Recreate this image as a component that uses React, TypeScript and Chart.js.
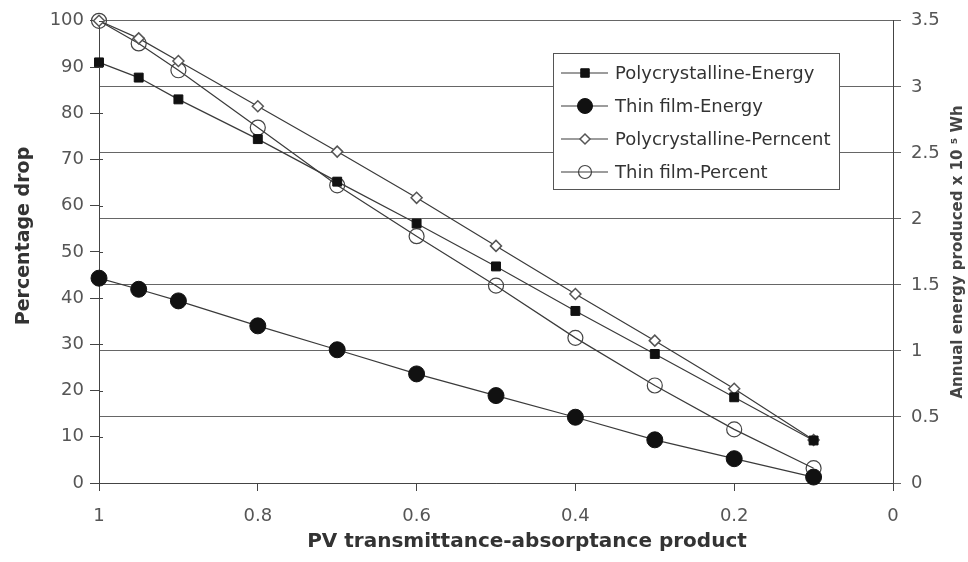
import React, { useEffect, useRef } from 'react';
import { Chart, registerables } from 'chart.js';
import { drawPoint } from 'chart.js/helpers';

Chart.register(...registerables);

// ---- data ----
const xValues = [1, 0.95, 0.9, 0.8, 0.7, 0.6, 0.5, 0.4, 0.3, 0.2, 0.1];
// right axis (Annual energy produced x 10^5 Wh)
const polyEnergy = [3.185, 3.07, 2.905, 2.604, 2.282, 1.965, 1.64, 1.303, 0.977, 0.649, 0.322];
const thinEnergy = [1.551, 1.467, 1.379, 1.19, 1.009, 0.826, 0.662, 0.498, 0.327, 0.184, 0.045];
// left axis (Percentage drop)
const polyPercent = [100, 96.2, 91.3, 81.5, 71.7, 61.7, 51.3, 40.9, 30.8, 20.4, 9.3];
const thinPercent = [100, 95.1, 89.3, 76.9, 64.4, 53.4, 42.7, 31.4, 21.1, 11.6, 3.2];

const seriesLabels = [
  'Polycrystalline-Energy',
  'Thin film-Energy',
  'Polycrystalline-Perncent',
  'Thin film-Percent',
];
const xTitle = 'PV transmittance-absorptance product';
const leftTitle = 'Percentage drop';
const rightTitle = 'Annual energy produced x 10 \u2075 Wh';

const leftMin = 0;
const leftMax = 100;
const leftStep = 10;
const rightMin = 0;
const rightMax = 3.5;
const rightStep = 0.5;
const xMin = 0;
const xMax = 1;
const xStep = 0.2;

const FONT = "'DejaVu Sans', 'Liberation Sans', Arial, sans-serif";
const LINE = '#3a3a3a';

const titlesPlugin = {
  id: 'customTitles',
  afterDraw(chart: any) {
    const ctx = chart.ctx;
    const area = chart.chartArea;
    ctx.save();
    // small inward tick marks on the left axis
    const yScale = chart.scales.y;
    ctx.strokeStyle = '#444';
    ctx.lineWidth = 1;
    yScale.ticks.forEach((t: any) => {
      const py = Math.round(yScale.getPixelForValue(t.value)) + 0.5;
      ctx.beginPath();
      ctx.moveTo(area.left, py);
      ctx.lineTo(area.left + 4, py);
      ctx.stroke();
    });
    ctx.fillStyle = '#333';
    // x title
    ctx.font = `bold 20px ${FONT}`;
    ctx.textAlign = 'center';
    ctx.textBaseline = 'alphabetic';
    ctx.fillText(xTitle, 527, 547);
    // left title
    ctx.save();
    ctx.translate(29, 236);
    ctx.rotate(-Math.PI / 2);
    ctx.font = `bold 19px ${FONT}`;
    ctx.textAlign = 'center';
    ctx.textBaseline = 'alphabetic';
    ctx.fillText(leftTitle, 0, 0);
    ctx.restore();
    // right title
    ctx.save();
    ctx.translate(962, (area.top + area.bottom) / 2);
    ctx.rotate(-Math.PI / 2);
    ctx.font = `bold 15px ${FONT}`;
    ctx.fillStyle = '#444';
    ctx.textAlign = 'center';
    ctx.textBaseline = 'alphabetic';
    ctx.fillText(rightTitle, 0, 0);
    ctx.restore();
    ctx.restore();
  },
};

const legendPlugin = {
  id: 'boxLegend',
  afterDraw(chart: any) {
    const ctx = chart.ctx;
    const left = 553;
    const top = 53;
    const width = 286;
    const height = 136;
    const rows = [73, 106, 139, 172];
    ctx.save();
    ctx.fillStyle = '#fff';
    ctx.fillRect(left, top, width, height);
    ctx.strokeStyle = '#555';
    ctx.lineWidth = 1;
    ctx.strokeRect(left + 0.5, top + 0.5, width, height);
    ctx.font = `18px ${FONT}`;
    ctx.textBaseline = 'middle';
    ctx.textAlign = 'left';
    chart.data.datasets.forEach((ds: any, i: number) => {
      const y = rows[i];
      ctx.strokeStyle = LINE;
      ctx.lineWidth = 1.2;
      ctx.beginPath();
      ctx.moveTo(561, y);
      ctx.lineTo(608, y);
      ctx.stroke();
      ctx.fillStyle = ds.pointBackgroundColor;
      ctx.strokeStyle = ds.pointBorderColor;
      ctx.lineWidth = ds.pointBorderWidth;
      drawPoint(ctx, {
        pointStyle: ds.pointStyle,
        rotation: 0,
        radius: ds.legendRadius,
        borderWidth: ds.pointBorderWidth,
      } as any, 585, y);
      ctx.fillStyle = '#333';
      ctx.fillText(ds.label, 615, y + 1);
    });
    ctx.restore();
  },
};

export default function App() {
  const ref = useRef<HTMLCanvasElement>(null);

  useEffect(() => {
    const mk = (arr: number[]) => xValues.map((x, i) => ({ x, y: arr[i] }));
    const chart = new Chart(ref.current as HTMLCanvasElement, {
      type: 'line',
      data: {
        datasets: [
          {
            label: seriesLabels[0],
            data: mk(polyEnergy),
            yAxisID: 'yR',
            borderColor: LINE,
            borderWidth: 1.2,
            pointStyle: 'rect',
            pointRadius: 6.3,
            pointBackgroundColor: '#111',
            pointBorderColor: '#111',
            pointBorderWidth: 1,
            legendRadius: 6,
            clip: false,
          } as any,
          {
            label: seriesLabels[1],
            data: mk(thinEnergy),
            yAxisID: 'yR',
            borderColor: LINE,
            borderWidth: 1.2,
            pointStyle: 'circle',
            pointRadius: 8,
            pointBackgroundColor: '#111',
            pointBorderColor: '#111',
            pointBorderWidth: 1,
            legendRadius: 7.5,
            clip: false,
          } as any,
          {
            label: seriesLabels[2],
            data: mk(polyPercent),
            yAxisID: 'y',
            borderColor: LINE,
            borderWidth: 1.2,
            pointStyle: 'rectRot',
            pointRadius: 5.5,
            pointBackgroundColor: '#fff',
            pointBorderColor: '#555',
            pointBorderWidth: 1.5,
            legendRadius: 5,
            clip: false,
          } as any,
          {
            label: seriesLabels[3],
            data: mk(thinPercent),
            yAxisID: 'y',
            borderColor: LINE,
            borderWidth: 1.2,
            pointStyle: 'circle',
            pointRadius: 7.5,
            pointBackgroundColor: 'rgba(255,255,255,0)',
            pointBorderColor: '#444',
            pointBorderWidth: 1.2,
            legendRadius: 6.5,
            clip: false,
          } as any,
        ],
      },
      options: {
        responsive: false,
        animation: false,
        events: [],
        layout: { padding: { top: 19, left: 0, right: 0, bottom: 0 } },
        plugins: {
          legend: { display: false },
          tooltip: { enabled: false },
          title: { display: false },
        },
        scales: {
          x: {
            type: 'linear',
            reverse: true,
            min: xMin,
            max: xMax,
            ticks: {
              stepSize: xStep,
              color: '#555',
              font: { family: FONT, size: 18 },
              padding: 15,
              maxRotation: 0,
              callback: (v: any) => String(Math.round(Number(v) * 10) / 10),
            },
            grid: { drawOnChartArea: false, color: '#444', tickLength: 8 },
            border: { color: '#444', width: 1 },
            afterFit: (s: any) => {
              s.height = 79;
            },
          },
          y: {
            position: 'left',
            min: leftMin,
            max: leftMax,
            ticks: {
              stepSize: leftStep,
              color: '#555',
              font: { family: FONT, size: 18 },
              padding: 6,
            },
            grid: { drawOnChartArea: false, color: '#444', tickLength: 9 },
            border: { color: '#444', width: 1 },
            afterFit: (s: any) => {
              s.width = 99;
            },
          },
          yR: {
            position: 'right',
            min: rightMin,
            max: rightMax,
            ticks: {
              stepSize: rightStep,
              color: '#555',
              font: { family: FONT, size: 18 },
              padding: 10,
              callback: (v: any) => String(Math.round(Number(v) * 10) / 10),
            },
            grid: { drawOnChartArea: true, color: '#666', tickLength: 8, lineWidth: 1 },
            border: { color: '#444', width: 1 },
            afterFit: (s: any) => {
              s.width = 75;
            },
          },
        },
      } as any,
      plugins: [titlesPlugin, legendPlugin],
    });
    return () => chart.destroy();
  }, []);

  return (
    <div style={{ position: 'absolute', left: 0, top: 0, width: 968, height: 562, background: '#fff' }}>
      <canvas ref={ref} width={968} height={562} style={{ display: 'block' }} />
    </div>
  );
}
